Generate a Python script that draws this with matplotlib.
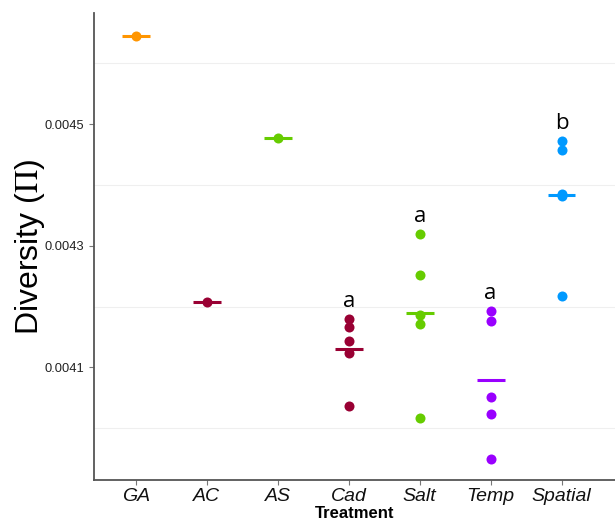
import matplotlib
matplotlib.use("Agg")
from matplotlib import pyplot as plt
import numpy as np

# data
treatments = ["GA", "AC", "AS", "Cad", "Salt", "Temp", "Spatial"]
colors = ["#FF9500", "#990033", "#66CC00", "#990033", "#66CC00", "#9900FF", "#0099FF"]
diversity = [
    [0.004645],
    [0.004207],
    [0.004477],
    [0.004179, 0.004167, 0.004143, 0.004124, 0.004037],
    [0.004319, 0.004252, 0.004186, 0.004171, 0.004016],
    [0.004192, 0.004177, 0.004052, 0.004024, 0.003949],
    [0.004472, 0.004457, 0.004385, 0.004381, 0.004218],
]
letters = ["", "", "", "a", "a", "a", "b"]

plt.rcParams['font.family'] = ['Liberation Sans', 'DejaVu Sans']
plt.rcParams['mathtext.fontset'] = 'stix'

fig = plt.figure(figsize=(6.15, 5.26), dpi=100)
ax = fig.add_axes([0.1528, 0.0875, 0.847, 0.8878])

# light grid at the in-between values
for g in [0.0040, 0.0042, 0.0044, 0.0046]:
    ax.axhline(g, color="#efefef", linewidth=0.8, zorder=0)

for i, vals in enumerate(diversity):
    xpos = i + 1
    ax.scatter([xpos] * len(vals), vals, s=52, color=colors[i], zorder=3, linewidths=0)
    m = np.mean(vals)
    ax.plot([xpos - 0.195, xpos + 0.195], [m, m], color=colors[i], linewidth=2.2,
            solid_capstyle='butt', zorder=4)
    if letters[i]:
        ax.text(xpos, max(vals) + 0.00002, letters[i], ha='center', va='baseline',
                fontsize=16, family=['Open Sans', 'DejaVu Sans'], color='black')

ax.set_xlim(0.41, 7.75)
ax.set_ylim(0.0039148, 0.0046826)
ax.set_xticks(range(1, len(treatments) + 1))
ax.set_xticklabels(treatments, fontstyle='italic', fontsize=14, color='#111111')
ax.set_yticks([0.0041, 0.0043, 0.0045])
ax.set_yticklabels(["0.0041", "0.0043", "0.0045"], fontsize=9.3, color='#222222')

for s in ['top', 'right']:
    ax.spines[s].set_visible(False)
for s in ['left', 'bottom']:
    ax.spines[s].set_color('#555555')
    ax.spines[s].set_linewidth(1.3)
ax.tick_params(axis='both', color='#777777', length=3.5, width=0.8)
ax.tick_params(axis='x', pad=2)

ax.set_xlabel("Treatment", fontsize=12, fontweight='bold', labelpad=1)
ax.set_ylabel(r"Diversity ($\Pi$)", fontsize=23)
ax.yaxis.set_label_coords(-0.09, 0.5)

fig.savefig("out.png", dpi=100)
